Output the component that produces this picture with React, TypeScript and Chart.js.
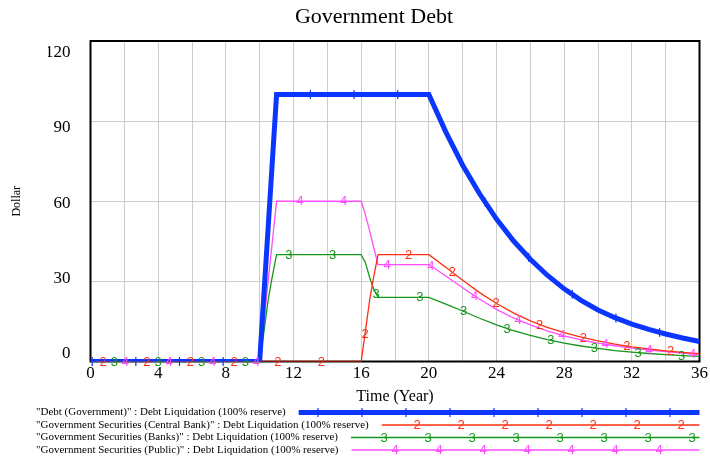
import React, { useEffect, useRef } from 'react';
import { Chart, registerables } from 'chart.js';

Chart.register(...registerables);

// ---- data ----
const chartTitle = 'Government Debt';
const xAxisTitle = 'Time (Year)';
const yAxisTitle = 'Dollar';

const times = [
  0, 1, 2, 3, 4, 5, 6, 7, 8, 9, 10, 10.25, 10.5, 10.75,
  11, 12, 13, 14, 15, 16, 16.25, 16.5, 16.75,
  17, 18, 19, 20, 21, 22, 23, 24, 25, 26, 27, 28, 29, 30, 31, 32, 33, 34, 35, 36,
];

const debtGovernment = [
  0, 0, 0, 0, 0, 0, 0, 0, 0, 0, 0, 25, 50, 75,
  100, 100, 100, 100, 100, 100, 100, 100, 100,
  100, 100, 100, 100, 86, 73.5, 62.8, 53.3, 45.2, 38.3, 32.3, 27.2, 22.9, 19.3, 16.4, 14.0, 12.0, 10.3, 8.8, 7.5,
];

const securitiesCentralBank = [
  0, 0, 0, 0, 0, 0, 0, 0, 0, 0, 0, 0, 0, 0,
  0, 0, 0, 0, 0, 0, 11.3, 23, 32,
  40, 40, 40, 40, 35.3, 30.4, 25.8, 21.7, 18.2, 15.2, 12.8, 10.8, 9.1, 7.7, 6.5, 5.5, 4.7, 4.0, 3.4, 2.9,
];

const securitiesBanks = [
  0, 0, 0, 0, 0, 0, 0, 0, 0, 0, 0, 11, 23, 32,
  40, 40, 40, 40, 40, 40, 37, 31.5, 27,
  24, 24, 24, 24, 21.5, 18.9, 16.2, 13.7, 11.6, 9.8, 8.2, 6.9, 5.8, 4.9, 4.1, 3.5, 3.0, 2.6, 2.2, 1.9,
];

const securitiesPublic = [
  0, 0, 0, 0, 0, 0, 0, 0, 0, 0, 0, 15, 30, 45,
  60, 60, 60, 60, 60, 60, 55, 49, 42.5,
  36.3, 36.3, 36.3, 36.3, 32.0, 27.6, 23.3, 19.5, 16.3, 13.7, 11.5, 9.6, 8.1, 6.9, 5.9, 5.0, 4.3, 3.7, 3.1, 2.6,
];

const seriesNames = [
  '"Debt (Government)" : Debt Liquidation (100% reserve)',
  '"Government Securities (Central Bank)" : Debt Liquidation (100% reserve)',
  '"Government Securities (Banks)" : Debt Liquidation (100% reserve)',
  '"Government Securities (Public)" : Debt Liquidation (100% reserve)',
];
const seriesValues = [debtGovernment, securitiesCentralBank, securitiesBanks, securitiesPublic];
const markerLabels = ['1', '2', '3', '4'];

const yTickValues = [0, 30, 60, 90, 120];

// ---- styles ----
const colors = ['#0a36ff', '#ff2e12', '#14961a', '#ff4dff'];
const widths = [5, 1.3, 1.3, 1.3];
const serif = '"Liberation Serif", "Times New Roman", serif';
const sans = '"Liberation Sans", Arial, sans-serif';
const markerOffsets = [0.1, 0.75, 1.41, 2.06];
const markerSpacing = 2.58;

function valueAt(t: number, vals: number[]) {
  for (let j = 0; j < times.length - 1; j++) {
    if (t >= times[j] && t <= times[j + 1]) {
      const f = (t - times[j]) / (times[j + 1] - times[j]);
      return vals[j] + f * (vals[j + 1] - vals[j]);
    }
  }
  return vals[vals.length - 1];
}

function drawMarker(ctx: CanvasRenderingContext2D, i: number, x: number, y: number) {
  if (i === 0) {
    ctx.strokeStyle = colors[0];
    ctx.lineWidth = 1.2;
    ctx.beginPath();
    ctx.moveTo(x, y - 4.5);
    ctx.lineTo(x, y + 4.5);
    ctx.stroke();
  } else {
    ctx.fillStyle = colors[i];
    ctx.font = `13px ${sans}`;
    ctx.textAlign = 'center';
    ctx.textBaseline = 'middle';
    ctx.fillText(markerLabels[i], x, y + 0.5);
  }
}

const framePlugin = {
  id: 'frame',
  beforeDatasetsDraw(chart: any) {
    const { ctx, chartArea: a } = chart;
    ctx.save();
    ctx.strokeStyle = '#000';
    ctx.lineWidth = 2;
    ctx.strokeRect(a.left, a.top, a.right - a.left, a.bottom - a.top);
    ctx.restore();
  },
};

const markerPlugin = {
  id: 'markers',
  afterDatasetsDraw(chart: any) {
    const { ctx } = chart;
    const xs = chart.scales.x;
    const ys = chart.scales.y;
    ctx.save();
    seriesValues.forEach((vals, i) => {
      for (let t = markerOffsets[i]; t <= 36; t += markerSpacing) {
        const px = xs.getPixelForValue(t);
        const py = ys.getPixelForValue(valueAt(t, vals));
        drawMarker(ctx, i, px, py);
      }
    });
    ctx.restore();
  },
};

const legendX = 36;
const legendTop = 412.5;
const legendStep = 12.5;

const legendPlugin = {
  id: 'vensimLegend',
  afterDraw(chart: any) {
    const { ctx, chartArea } = chart;
    ctx.save();
    seriesNames.forEach((name, i) => {
      const y = legendTop + i * legendStep;
      ctx.font = `11px ${serif}`;
      ctx.fillStyle = '#000';
      ctx.textAlign = 'left';
      ctx.textBaseline = 'middle';
      ctx.fillText(name, legendX, y);
      const w = ctx.measureText(name).width;
      const x0 = legendX + w + 13;
      const x1 = chartArea.right;
      ctx.strokeStyle = colors[i];
      ctx.lineWidth = widths[i];
      ctx.lineCap = 'butt';
      ctx.beginPath();
      ctx.moveTo(x0, y);
      ctx.lineTo(x1, y);
      ctx.stroke();
      for (let x = 10 + 11 * i; x <= x1 + 2; x += 44) {
        if (x < x0 + 8) continue;
        drawMarker(ctx, i, x, y);
      }
    });
    ctx.restore();
  },
};

export default function App() {
  const ref = useRef<HTMLCanvasElement | null>(null);
  useEffect(() => {
    if (!ref.current) return;
    const chart = new Chart(ref.current, {
      type: 'line',
      data: {
        datasets: seriesValues.map((vals, i) => ({
          label: seriesNames[i],
          data: times.map((t, j) => ({ x: t, y: vals[j] })),
          borderColor: colors[i],
          backgroundColor: colors[i],
          borderWidth: widths[i],
          pointRadius: 0,
          tension: 0,
          fill: false,
        })),
      },
      options: {
        animation: false,
        responsive: false,
        layout: { padding: { left: 48, right: 10, top: 0, bottom: 51 } },
        plugins: {
          legend: { display: false },
          tooltip: { enabled: false },
          title: {
            display: true,
            text: chartTitle,
            color: '#000',
            font: { family: serif, size: 22, weight: 'normal' },
            padding: { top: 3.8, bottom: 10.8 },
          },
        },
        scales: {
          x: {
            type: 'linear',
            min: 0,
            max: 36,
            ticks: {
              stepSize: 2,
              autoSkip: false,
              maxRotation: 0,
              color: '#000',
              font: { family: serif, size: 17 },
              padding: 2,
              callback: (v: any) => (Number(v) % 4 === 0 ? String(v) : ''),
            },
            grid: { color: '#cdcdcd', lineWidth: 1, drawTicks: false },
            border: { display: false },
            title: {
              display: true,
              text: xAxisTitle,
              color: '#000',
              font: { family: serif, size: 16 },
              padding: { top: 0, bottom: 0 },
            },
            afterFit: (s: any) => { s.height = 44.5; },
          },
          y: {
            type: 'linear',
            min: 0,
            max: 120,
            ticks: { stepSize: 30, display: false },
            grid: { color: '#cdcdcd', lineWidth: 1, drawTicks: false },
            border: { display: false },
            afterFit: (s: any) => { s.width = 0; },
          },
          y2: {
            type: 'linear',
            position: 'left',
            min: -3.1,
            max: 124.7,
            afterBuildTicks: (ax: any) => { ax.ticks = yTickValues.map((v) => ({ value: v })); },
            ticks: { color: '#000', font: { family: serif, size: 17 }, padding: 20 },
            grid: { display: false, drawTicks: false },
            border: { display: false },
            title: {
              display: true,
              text: yAxisTitle,
              color: '#000',
              font: { family: serif, size: 12 },
              padding: { top: -38.2, bottom: 0 },
            },
            afterFit: (s: any) => { s.width = 42.5; },
          },
        },
      } as any,
      plugins: [framePlugin, markerPlugin, legendPlugin],
    });
    return () => chart.destroy();
  }, []);
  return (
    <div style={{ position: 'absolute', left: 0, top: 0, width: 710, height: 457 }}>
      <canvas ref={ref} width={710} height={457} style={{ width: 710, height: 457 }} />
    </div>
  );
}
